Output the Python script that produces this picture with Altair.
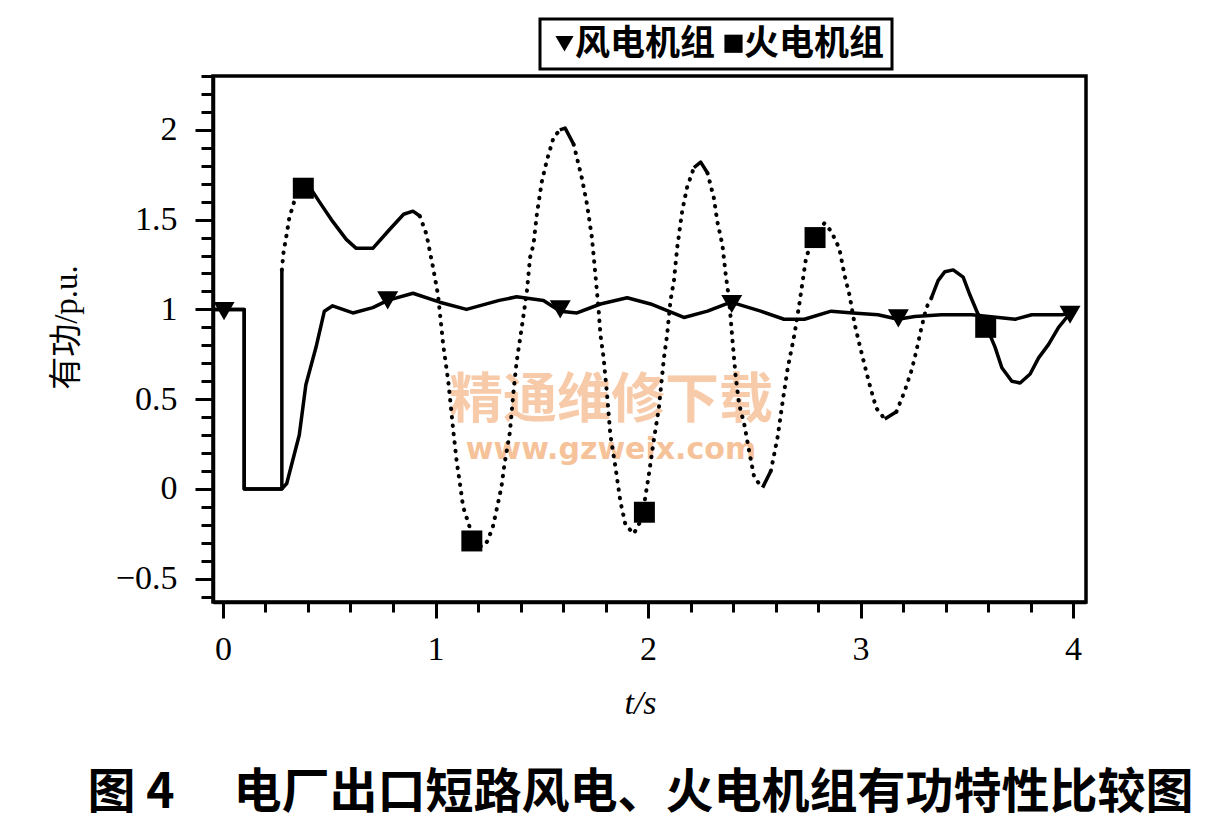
import altair as alt
import pandas as pd

# ---------------- data ----------------
series_names = ["风电机组", "火电机组"]

wind_t = [-0.045, 0.10, 0.10, 0.277, 0.30, 0.359, 0.39, 0.438, 0.477, 0.516, 0.611, 0.705,
          0.775, 0.894, 1.02, 1.146, 1.30, 1.382, 1.508, 1.587, 1.666, 1.776, 1.902, 2.012,
          2.169, 2.28, 2.39, 2.53, 2.64, 2.736, 2.862, 2.964, 3.082, 3.176, 3.255, 3.381,
          3.523, 3.649, 3.728, 3.806, 3.948, 3.99]
wind_p = [1.0, 1.0, 0.0, 0.0, 0.03, 0.30, 0.58, 0.79, 0.99, 1.02, 0.98, 1.01,
          1.05, 1.09, 1.04, 1.0, 1.05, 1.07, 1.05, 0.99, 0.98, 1.03, 1.065, 1.03,
          0.955, 0.99, 1.04, 0.99, 0.945, 0.945, 0.99, 0.98, 0.97, 0.945, 0.96, 0.97,
          0.97, 0.955, 0.945, 0.97, 0.97, 0.98]

thermal_t = [-0.045, 0.10, 0.10, 0.277, 0.277, 0.285, 0.30, 0.312, 0.335, 0.36, 0.385, 0.42,
             0.453, 0.516, 0.58, 0.627, 0.705, 0.784, 0.85, 0.894, 0.926, 0.957, 0.989, 1.012,
             1.036, 1.06, 1.085, 1.10, 1.115, 1.13, 1.16, 1.175, 1.20, 1.225, 1.245, 1.27,
             1.285, 1.31, 1.325, 1.35, 1.366, 1.382, 1.406, 1.43, 1.445, 1.461, 1.477, 1.50,
             1.524, 1.555, 1.585, 1.61, 1.65, 1.689, 1.713, 1.736, 1.752, 1.768, 1.776, 1.791,
             1.807, 1.823, 1.847, 1.87, 1.894, 1.933, 1.96, 1.98, 2.004, 2.027, 2.051, 2.075,
             2.09, 2.106, 2.122, 2.137, 2.161, 2.184, 2.216, 2.248, 2.28, 2.31, 2.326, 2.35,
             2.366, 2.382, 2.398, 2.413, 2.429, 2.453, 2.476, 2.50, 2.539, 2.578, 2.61, 2.634,
             2.657, 2.689, 2.712, 2.728, 2.744, 2.783, 2.83, 2.862, 2.90, 2.925, 2.948, 2.972,
             2.995, 3.019, 3.043, 3.074, 3.114, 3.169, 3.208, 3.24, 3.263, 3.287, 3.31, 3.334,
             3.365, 3.397, 3.436, 3.483, 3.515, 3.554, 3.594, 3.633, 3.665, 3.712, 3.751, 3.798,
             3.838, 3.885, 3.932, 3.98, 3.995]
thermal_p = [1.0, 1.0, 0.0, 0.0, 1.22, 1.32, 1.42, 1.51, 1.60, 1.66, 1.685, 1.66,
             1.60, 1.49, 1.39, 1.34, 1.34, 1.445, 1.53, 1.547, 1.52, 1.42, 1.23, 1.08,
             0.805, 0.60, 0.31, 0.15, 0.03, -0.10, -0.21, -0.29, -0.32, -0.32, -0.29, -0.21,
             -0.13, 0.01, 0.14, 0.315, 0.53, 0.71, 0.90, 1.10, 1.29, 1.36, 1.53, 1.71,
             1.83, 1.955, 2.0, 2.01, 1.92, 1.73, 1.585, 1.40, 1.20, 0.99, 0.86, 0.73,
             0.53, 0.30, 0.12, -0.07, -0.20, -0.25, -0.19, -0.10, 0.08, 0.27, 0.45, 0.73,
             0.86, 1.05, 1.16, 1.34, 1.55, 1.68, 1.79, 1.82, 1.76, 1.62, 1.49, 1.36,
             1.19, 1.05, 0.82, 0.62, 0.47, 0.36, 0.21, 0.063, 0.007, 0.10, 0.29, 0.49,
             0.67, 0.86, 1.03, 1.16, 1.29, 1.41, 1.48, 1.435, 1.34, 1.19, 1.08, 0.92,
             0.805, 0.69, 0.58, 0.45, 0.39, 0.43, 0.545, 0.66, 0.77, 0.90, 1.01, 1.065,
             1.16, 1.21, 1.22, 1.18, 1.08, 0.97, 0.90, 0.79, 0.675, 0.60, 0.59, 0.64,
             0.73, 0.805, 0.90, 0.97, 0.99]

wind_mark_t = [0.005, 0.775, 1.587, 2.394, 3.178, 3.986]
wind_mark_p = [0.99, 1.05, 1.0, 1.03, 0.95, 0.97]
thermal_mark_t = [0.378, 1.171, 1.983, 2.786, 3.589]
thermal_mark_p = [1.675, -0.29, -0.13, 1.40, 0.90]

y_ticks = [round(-0.6 + 0.1 * i, 1) for i in range(30)]
x_ticks = [round(0.2 * i, 1) for i in range(21)]

caption = "图 4　 电厂出口短路风电、火电机组有功特性比较图"
watermark_cn = "精通维修下载"
watermark_url = "www.gzweix.com"

# style only: stretches of the thermal curve that print as a continuous stroke
solid_spans = [(-0.1, 0.28), (0.37, 0.93), (1.58, 1.635), (2.23, 2.265), (2.52, 2.56),
               (3.10, 3.17), (3.33, 3.57), (3.60, 4.1)]

# ---------------- tables ----------------
wind_df = pd.DataFrame({"t": wind_t, "p": wind_p, "i": list(range(len(wind_t)))})

rows = []
seg = 0
prev = None
for k in range(len(thermal_t) - 1):
    t0, t1 = thermal_t[k], thermal_t[k + 1]
    mid = (t0 + t1) / 2
    solid = abs(t1 - t0) < 1e-9 or any(a <= mid <= b for a, b in solid_spans)
    style = "solid" if solid else "dotted"
    if style != prev:
        seg += 1
        rows.append({"t": t0, "p": thermal_p[k], "seg": seg, "style": style, "i": len(rows)})
        prev = style
    rows.append({"t": t1, "p": thermal_p[k + 1], "seg": seg, "style": style, "i": len(rows)})
thermal_df = pd.DataFrame(rows)

marks_df = pd.DataFrame({
    "t": wind_mark_t + thermal_mark_t,
    "p": wind_mark_p + thermal_mark_p,
    "series": [series_names[0]] * len(wind_mark_t) + [series_names[1]] * len(thermal_mark_t),
})

W, H = 873, 526
x_scale = alt.Scale(domain=[-0.047, 4.061], nice=False, zero=False)
y_scale = alt.Scale(domain=[-0.63, 2.3], nice=False, zero=False)

x_major = "abs(datum.value - round(datum.value)) < 0.01"
y_major = "abs(datum.value * 2 - round(datum.value * 2)) < 0.01"

x_axis = alt.Axis(
    values=x_ticks, title="t/s", grid=False,
    labelExpr=f"{x_major} ? format(datum.value, 'd') : ''",
    tickSize={"condition": {"test": x_major, "value": 16}, "value": 10},
    labelPadding=14, labelFlush=False, labelOverlap=False,
    titleFont="Liberation Serif", titleFontSize=34, titleFontWeight="normal",
    titleFontStyle="italic",
    titleX=427, titleY=101, titleBaseline="middle", titleAlign="center",
)
y_axis = alt.Axis(
    values=y_ticks, title="有功/p.u.", grid=False,
    labelExpr=f"{y_major} ? format(datum.value, '.1~f') : ''",
    tickSize={"condition": {"test": y_major, "value": 18}, "value": 12},
    labelPadding=18, labelFlush=False, labelOverlap=False,
    titleFont="'Liberation Serif', 'Noto Sans CJK SC'", titleFontSize=33,
    titleFontWeight="normal", titleAngle=-90,
    titleX=-147, titleY=251, titleBaseline="middle", titleAlign="center",
)

X = alt.X("t:Q", scale=x_scale, axis=x_axis)
Y = alt.Y("p:Q", scale=y_scale, axis=y_axis)

wm_df = pd.DataFrame({"a": [0]})
wm1 = alt.Chart(wm_df).mark_text(
    font="Noto Sans CJK SC", fontSize=54, fontWeight="bold", color="#f6c29c", opacity=0.85,
    align="center", baseline="middle",
).encode(x=alt.value(398), y=alt.value(326), text=alt.value(watermark_cn))
wm2 = alt.Chart(wm_df).mark_text(
    font="DejaVu Sans", fontSize=30, fontWeight="bold", color="#f4b888", opacity=0.85,
    align="center", baseline="middle",
).encode(x=alt.value(398), y=alt.value(374), text=alt.value(watermark_url))

wind_line = alt.Chart(wind_df).mark_line(color="black", strokeWidth=3.5, strokeJoin="round").encode(
    x=X, y=Y, order="i:Q"
)
thermal_solid = alt.Chart(thermal_df).transform_filter("datum.style == 'solid'").mark_line(
    color="black", strokeWidth=3.5, strokeJoin="round"
).encode(x=X, y=Y, detail="seg:N", order="i:Q")
thermal_dotted = alt.Chart(thermal_df).transform_filter("datum.style == 'dotted'").mark_line(
    color="black", strokeWidth=4, strokeCap="round", strokeDash=[0.5, 8]
).encode(x=X, y=Y, detail="seg:N", order="i:Q")

points = alt.Chart(marks_df).mark_point(filled=True, color="black", opacity=1, size=440).encode(
    x=X, y=Y,
    shape=alt.Shape(
        "series:N",
        scale=alt.Scale(domain=series_names, range=["triangle-down", "square"]),
        legend=alt.Legend(
            title=None, orient="none", legendX=327, legendY=-57, direction="horizontal",
            labelFont="Noto Sans CJK SC", labelFontSize=35, labelFontWeight="bold",
            labelColor="black", symbolSize=330, symbolFillColor="black",
            symbolStrokeWidth=0, labelOffset={"expr": "-7"}, columnPadding={"expr": "-8"},
            padding=7, strokeColor="black", fillColor="white",
        ),
    ),
)

chart = alt.layer(wm1, wm2, wind_line, thermal_solid, thermal_dotted, points).properties(
    width=W, height=H,
    padding={"left": 205, "top": 68, "right": 130, "bottom": 230},
    autosize=alt.AutoSizeParams(type="none"),
    title=alt.TitleParams(
        text=caption, orient="bottom", anchor="middle", font="Noto Sans CJK SC",
        fontSize=48, fontWeight="bold", color="black", offset=50, dx=-9,
    ),
).configure_view(stroke="black", strokeWidth=3.5).configure_axis(
    domainColor="black", domainWidth=3.5, tickColor="black", tickWidth=3,
    labelColor="black", labelFont="Liberation Serif", labelFontSize=34, titleColor="black",
).configure_legend(strokeWidth=3)

chart.save("out.html", embed_options={"renderer": "svg", "actions": False})
